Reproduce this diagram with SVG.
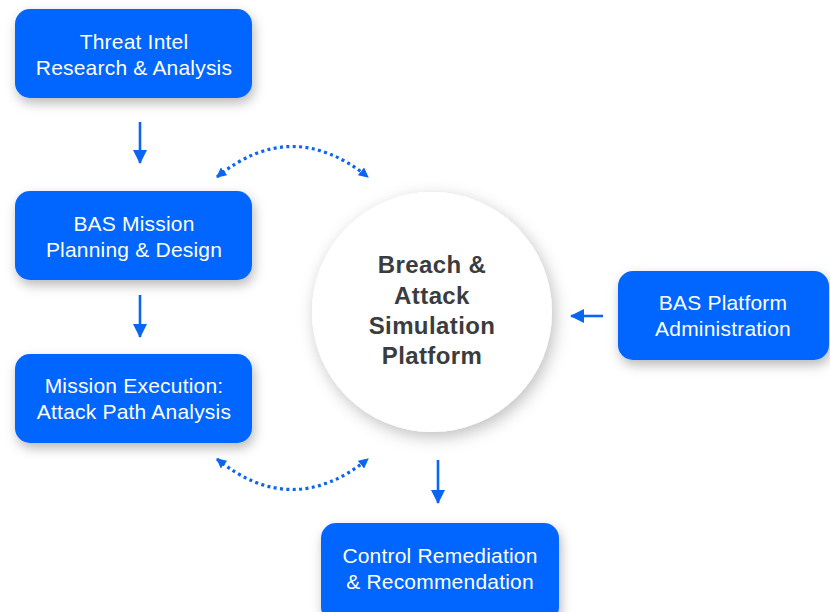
<svg xmlns="http://www.w3.org/2000/svg" width="830" height="612" viewBox="0 0 830 612">
  <defs>
    <filter id="shadow" x="-20%" y="-20%" width="150%" height="160%">
      <feDropShadow dx="2" dy="5" stdDeviation="6" flood-color="#000" flood-opacity="0.28"/>
    </filter>
    <filter id="cshadow" x="-20%" y="-20%" width="150%" height="150%">
      <feDropShadow dx="3" dy="5" stdDeviation="8" flood-color="#000" flood-opacity="0.25"/>
    </filter>
    <marker id="tri" viewBox="0 0 10 10" refX="9" refY="5" markerWidth="10" markerHeight="10" markerUnits="userSpaceOnUse" orient="auto-start-reverse">
      <path d="M0,0 L10,5 L0,10 z" fill="#0a66f0"/>
    </marker>
    <marker id="head" viewBox="0 0 14 14" refX="13" refY="7" markerWidth="14" markerHeight="14" markerUnits="userSpaceOnUse" orient="auto">
      <path d="M0,0 L14,7 L0,14 z" fill="#0a66f0"/>
    </marker>
  </defs>
  <style>
    .box { fill: #0066ff; filter: url(#shadow); }
    .lbl { font-family: "Liberation Sans", Arial, sans-serif; font-size: 21px; letter-spacing: 0.2px; fill: #ffffff; text-anchor: middle; }
    .core { font-family: "Liberation Sans", Arial, sans-serif; font-size: 24px; letter-spacing: 0.4px; font-weight: bold; fill: #3a3c40; text-anchor: middle; }
    .solid { stroke: #0a66f0; stroke-width: 2.6; fill: none; marker-end: url(#head); }
    .dots { stroke: #0a66f0; stroke-width: 3.2; fill: none; stroke-dasharray: 3 3.4; marker-start: url(#tri); marker-end: url(#tri); }
  </style>

  <rect width="830" height="612" fill="#ffffff"/>

  <g id="connectors">
    <line class="solid" x1="140" y1="122" x2="140" y2="163"/>
    <line class="solid" x1="140" y1="295" x2="140" y2="337"/>
    <line class="solid" x1="603" y1="316" x2="571" y2="316"/>
    <line class="solid" x1="438" y1="460" x2="438" y2="503"/>
    <path class="dots" d="M217,177 Q292,116 368,177"/>
    <path class="dots" d="M217,459 Q292,520 368,459"/>
  </g>

  <g id="core">
    <circle cx="432" cy="312" r="120" fill="#ffffff" filter="url(#cshadow)"/>
    <text class="core" x="432" y="273">Breach &amp;</text>
    <text class="core" x="432" y="304">Attack</text>
    <text class="core" x="432" y="334">Simulation</text>
    <text class="core" x="432" y="364">Platform</text>
  </g>

  <g id="threat-intel">
    <rect class="box" x="15" y="9" width="237" height="89" rx="15"/>
    <text class="lbl" x="134" y="49">Threat Intel</text>
    <text class="lbl" x="134" y="75">Research &amp; Analysis</text>
  </g>

  <g id="mission-planning">
    <rect class="box" x="15" y="191" width="237" height="89" rx="15"/>
    <text class="lbl" x="134" y="231">BAS Mission</text>
    <text class="lbl" x="134" y="257">Planning &amp; Design</text>
  </g>

  <g id="mission-execution">
    <rect class="box" x="15" y="354" width="237" height="89" rx="15"/>
    <text class="lbl" x="134" y="393">Mission Execution:</text>
    <text class="lbl" x="134" y="419">Attack Path Analysis</text>
  </g>

  <g id="platform-admin">
    <rect class="box" x="618" y="271" width="211" height="89" rx="15"/>
    <text class="lbl" x="723" y="310">BAS Platform</text>
    <text class="lbl" x="723" y="336">Administration</text>
  </g>

  <g id="control-remediation">
    <rect class="box" x="321" y="523" width="238" height="99" rx="15"/>
    <text class="lbl" x="440" y="563">Control Remediation</text>
    <text class="lbl" x="440" y="589">&amp; Recommendation</text>
  </g>
</svg>
